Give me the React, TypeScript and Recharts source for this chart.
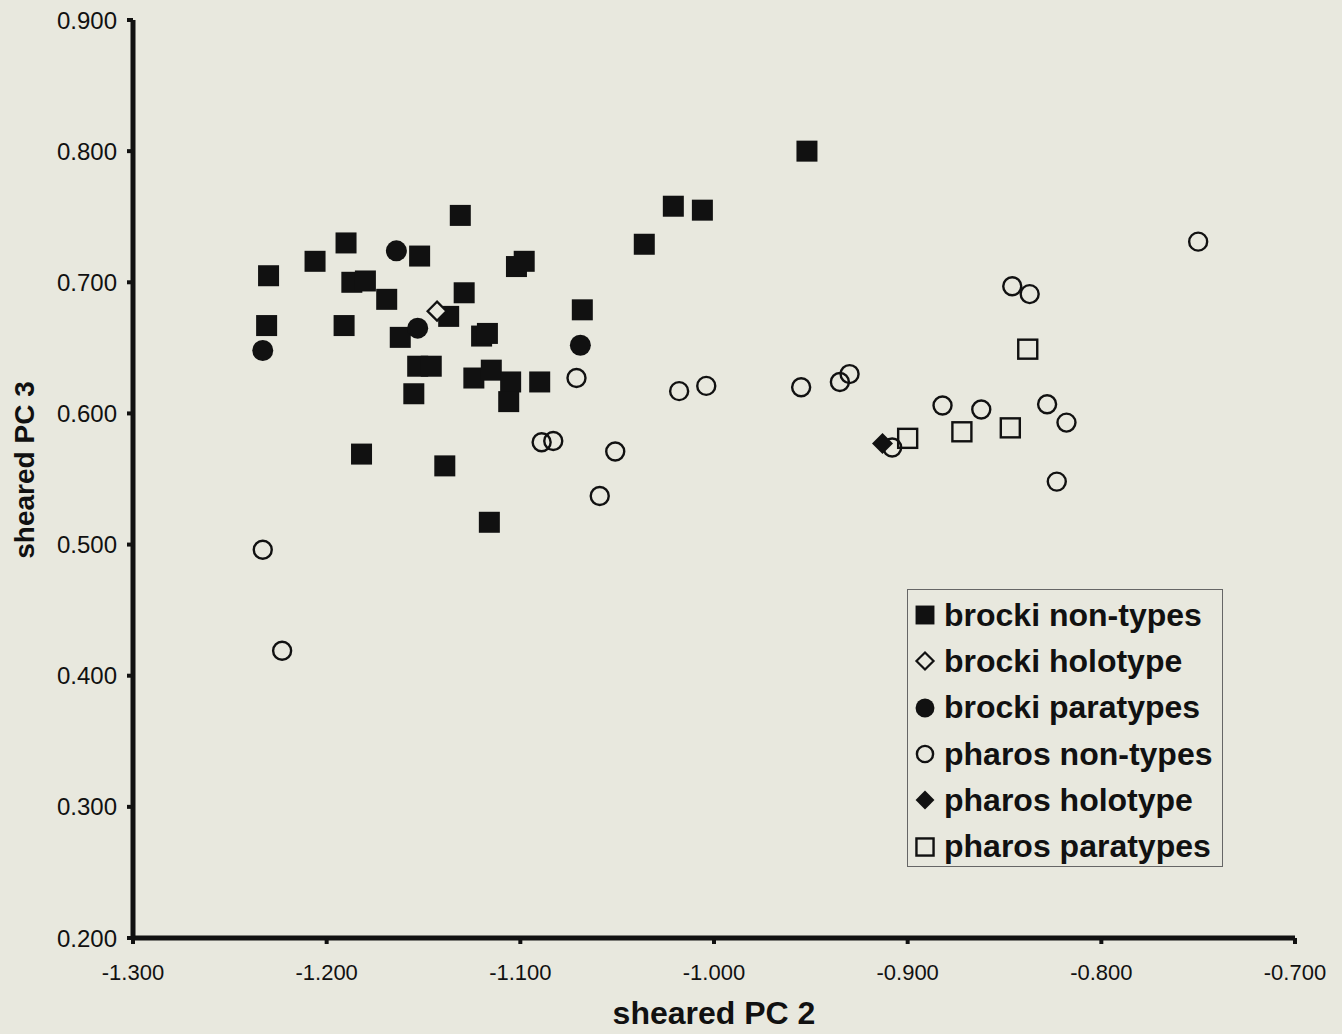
import { ScatterChart, Scatter, XAxis, YAxis, Legend, Label } from 'recharts';

// values (sheared PC 2, sheared PC 3)
const brockiNonTypes: [number, number][] = [
  [-1.230, 0.705], [-1.231, 0.667], [-1.206, 0.716], [-1.190, 0.730], [-1.191, 0.667],
  [-1.187, 0.700], [-1.180, 0.701], [-1.169, 0.687], [-1.152, 0.720], [-1.162, 0.658],
  [-1.153, 0.636], [-1.146, 0.636], [-1.155, 0.615], [-1.182, 0.569], [-1.131, 0.751],
  [-1.129, 0.692], [-1.137, 0.674], [-1.124, 0.627], [-1.115, 0.633], [-1.105, 0.624],
  [-1.106, 0.609], [-1.090, 0.624], [-1.120, 0.659], [-1.117, 0.661], [-1.102, 0.712],
  [-1.098, 0.716], [-1.068, 0.679], [-1.139, 0.560], [-1.116, 0.517], [-1.036, 0.729],
  [-1.021, 0.758], [-1.006, 0.755], [-0.952, 0.800],
];
const brockiHolotype: [number, number][] = [[-1.143, 0.678]];
const brockiParatypes: [number, number][] = [
  [-1.164, 0.724], [-1.153, 0.665], [-1.069, 0.652], [-1.233, 0.648],
];
const pharosNonTypes: [number, number][] = [
  [-1.233, 0.496], [-1.223, 0.419], [-1.071, 0.627], [-1.089, 0.578], [-1.083, 0.579],
  [-1.051, 0.571], [-1.059, 0.537], [-1.018, 0.617], [-1.004, 0.621], [-0.955, 0.620],
  [-0.935, 0.624], [-0.930, 0.630], [-0.908, 0.574], [-0.882, 0.606], [-0.862, 0.603],
  [-0.846, 0.697], [-0.837, 0.691], [-0.828, 0.607], [-0.818, 0.593], [-0.823, 0.548],
  [-0.750, 0.731],
];
const pharosHolotype: [number, number][] = [[-0.913, 0.577]];
const pharosParatypes: [number, number][] = [
  [-0.900, 0.581], [-0.872, 0.586], [-0.847, 0.589], [-0.838, 0.649],
];

const xTicks = [-1.3, -1.2, -1.1, -1.0, -0.9, -0.8, -0.7];
const yTicks = [0.2, 0.3, 0.4, 0.5, 0.6, 0.7, 0.8, 0.9];

const BG = '#e8e8de';
const INK = '#111';
const FONT = '"Liberation Sans", Arial, sans-serif';

type Mark = 'square' | 'diamondOpen' | 'circle' | 'circleOpen' | 'diamond' | 'squareOpen';

const series: { name: string; data: [number, number][]; mark: Mark }[] = [
  { name: 'brocki non-types', data: brockiNonTypes, mark: 'square' },
  { name: 'brocki holotype', data: brockiHolotype, mark: 'diamondOpen' },
  { name: 'brocki paratypes', data: brockiParatypes, mark: 'circle' },
  { name: 'pharos non-types', data: pharosNonTypes, mark: 'circleOpen' },
  { name: 'pharos holotype', data: pharosHolotype, mark: 'diamond' },
  { name: 'pharos paratypes', data: pharosParatypes, mark: 'squareOpen' },
];

const toPoints = (arr: [number, number][]) => arr.map(([x, y]) => ({ x, y }));

const Marker = ({ mark, cx, cy, s = 1 }: { mark: Mark; cx: number; cy: number; s?: number }) => {
  switch (mark) {
    case 'square':
      return <rect x={cx - 10.5 * s} y={cy - 10.5 * s} width={21 * s} height={21 * s} fill={INK} />;
    case 'squareOpen':
      return <rect x={cx - 9.5 * s} y={cy - 9.5 * s} width={19 * s} height={19 * s} fill="none" stroke={INK} strokeWidth={2.4} />;
    case 'circle':
      return <circle cx={cx} cy={cy} r={10.5 * s} fill={INK} />;
    case 'circleOpen':
      return <circle cx={cx} cy={cy} r={9 * s} fill="none" stroke={INK} strokeWidth={2.4} />;
    case 'diamond': {
      const r = 10.5 * s;
      return <polygon points={`${cx},${cy - r} ${cx + r},${cy} ${cx},${cy + r} ${cx - r},${cy}`} fill={INK} />;
    }
    case 'diamondOpen': {
      const r = 9.5 * s;
      return <polygon points={`${cx},${cy - r} ${cx + r},${cy} ${cx},${cy + r} ${cx - r},${cy}`} fill={BG} stroke={INK} strokeWidth={2.2} />;
    }
  }
};

const LegendBox = () => (
  <div
    style={{
      border: '1px solid #666',
      background: BG,
      width: 316,
      height: 278,
      boxSizing: 'border-box',
      padding: '2px 0 0 6px',
    }}
  >
    {series.map((s) => (
      <div key={s.name} style={{ display: 'flex', alignItems: 'center', height: 46.3 }}>
        <svg width={22} height={22} style={{ flex: 'none' }}>
          <Marker mark={s.mark} cx={11} cy={11} s={0.9} />
        </svg>
        <span style={{ marginLeft: 8, fontFamily: FONT, fontWeight: 'bold', fontSize: 32, color: INK, whiteSpace: 'nowrap' }}>
          {s.name}
        </span>
      </div>
    ))}
  </div>
);

export default function App() {
  return (
    <div style={{ position: 'absolute', left: 0, top: 0, width: 1342, height: 1034, background: BG }}>
      <ScatterChart width={1342} height={1034} margin={{ top: 20, right: 47, bottom: 6, left: 23 }}>
        <XAxis
          type="number"
          dataKey="x"
          domain={[-1.3, -0.7]}
          ticks={xTicks}
          allowDataOverflow
          height={90}
          tickFormatter={(v: number) => v.toFixed(3)}
          tick={{ fill: INK, fontSize: 22, fontFamily: FONT }}
          tickSize={6}
          tickMargin={20}
          tickLine={{ stroke: INK, strokeWidth: 4 }}
          axisLine={{ stroke: INK, strokeWidth: 5 }}
        >
          <Label
            content={() => (
              <text x={714} y={1024} textAnchor="middle" fill={INK} fontFamily={FONT} fontWeight="bold" fontSize={32}>
                sheared PC 2
              </text>
            )}
          />
        </XAxis>
        <YAxis
          type="number"
          dataKey="y"
          domain={[0.2, 0.9]}
          ticks={yTicks}
          allowDataOverflow
          width={110}
          tickFormatter={(v: number) => v.toFixed(3)}
          tick={{ fill: INK, fontSize: 24, fontFamily: FONT }}
          tickSize={6}
          tickMargin={10}
          tickLine={{ stroke: INK, strokeWidth: 4 }}
          axisLine={{ stroke: INK, strokeWidth: 5 }}
        >
          <Label
            content={() => (
              <text transform="translate(34,470) rotate(-90)" textAnchor="middle" fill={INK} fontFamily={FONT} fontWeight="bold" fontSize={28}>
                sheared PC 3
              </text>
            )}
          />
        </YAxis>
        <Legend
          layout="vertical"
          align="center"
          verticalAlign="middle"
          content={() => <LegendBox />}
          wrapperStyle={{ left: 907, top: 589, width: 316, height: 278 }}
        />
        {series.map((s) => (
          <Scatter
            key={s.name}
            name={s.name}
            data={toPoints(s.data)}
            isAnimationActive={false}
            shape={(p: any) => <Marker mark={s.mark} cx={p.cx} cy={p.cy} />}
          />
        ))}
      </ScatterChart>
    </div>
  );
}
